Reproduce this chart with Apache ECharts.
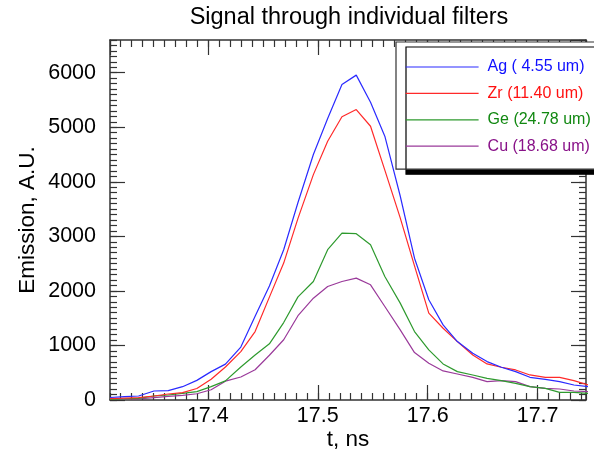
<!DOCTYPE html>
<html>
<head>
<meta charset="utf-8">
<script src="https://cdn.jsdelivr.net/npm/echarts@6/dist/echarts.min.js"></script>
<style>
html,body{margin:0;padding:0;background:#fff;}
#chart{width:594px;height:449px;}
</style>
</head>
<body>
<div id="chart"></div>
<script>
// ---- data ----
var times = [17.311, 17.324, 17.337, 17.351, 17.364, 17.377, 17.390, 17.403, 17.416, 17.430,
             17.443, 17.456, 17.469, 17.482, 17.496, 17.509, 17.522, 17.535, 17.548, 17.561,
             17.575, 17.588, 17.601, 17.614, 17.627, 17.641, 17.654, 17.667, 17.680, 17.693,
             17.707, 17.720, 17.733, 17.746];
var agValues = [46, 61, 73, 165, 171, 244, 360, 520, 658, 970,
                1535, 2090, 2755, 3620, 4500, 5160, 5785, 5956, 5460, 4836,
                3740, 2600, 1837, 1377, 1071, 857, 704, 600, 520, 416,
                379, 337, 275, 245];
var zrValues = [24, 35, 43, 73, 110, 135, 210, 380, 605, 888,
                1255, 1886, 2510, 3330, 4132, 4744, 5192, 5325, 5019, 4215,
                3340, 2460, 1592, 1316, 1071, 826, 661, 600, 551, 459,
                416, 416, 355, 275];
var geValues = [13, 20, 31, 73, 92, 122, 153, 245, 350, 606,
                826, 1030, 1420, 1890, 2172, 2755, 3061, 3049, 2847, 2264,
                1776, 1255, 918, 661, 520, 459, 398, 355, 306, 245,
                214, 141, 141, 122];
var cuValues = [10, 12, 18, 45, 65, 85, 115, 188, 345, 422,
                555, 820, 1105, 1545, 1867, 2081, 2172, 2235, 2112, 1714,
                1286, 869, 674, 533, 477, 416, 337, 355, 337, 245,
                214, 202, 165, 153];
var seriesNames = ['Ag ( 4.55 um)', 'Zr (11.40 um)', 'Ge (24.78 um)', 'Cu (18.68 um)'];
var lineColors = ['#2a2aff', '#ff2a2a', '#2e9a2e', '#9a3a9a'];
var textColors = ['#1010ff', '#ff1010', '#118811', '#881188'];
var allValues = [agValues, zrValues, geValues, cuValues];

var xMin = 17.311, xMax = 17.744, yMin = 0, yMax = 6600;

function pairs(vals){
  var out = [];
  for (var i = 0; i < times.length; i++) out.push([times[i], vals[i]]);
  return out;
}

var axisCol = '#333';
var fontFam = '"Liberation Sans", Arial, Helvetica, sans-serif';

function xAx(pos, major, labels){
  return {
    type: 'value', position: pos, min: xMin, max: xMax,
    splitNumber: major ? 5 : 43,
    axisLine: {show: major, onZero: false, lineStyle: {color: axisCol, width: 1.5}},
    axisTick: {show: true, inside: true, length: major ? 15 : 7, lineStyle: {color: axisCol, width: 1.2}},
    axisLabel: {show: labels, showMinLabel: false, showMaxLabel: false, margin: 5,
      color: '#000', fontSize: 21.5, fontFamily: fontFam,
      formatter: function(v){ return v.toFixed(1); }},
    splitLine: {show: false},
    name: labels ? 't, ns' : '', nameLocation: 'middle', nameGap: 28, nameMoveOverlap: false,
    nameTextStyle: {color: '#000', fontSize: 22.5, fontFamily: fontFam}
  };
}
function yAx(pos, major, labels){
  return {
    type: 'value', position: pos, min: yMin, max: yMax,
    interval: major ? 1000 : 100,
    axisLine: {show: major, onZero: false, lineStyle: {color: axisCol, width: 1.5}},
    axisTick: {show: true, inside: true, length: major ? 15 : 7, lineStyle: {color: axisCol, width: 1.2}},
    axisLabel: {show: labels, showMaxLabel: false, margin: 14,
      color: '#000', fontSize: 21.5, fontFamily: fontFam,
      formatter: function(v){ return String(v); }},
    splitLine: {show: false},
    name: labels ? 'Emission, A.U.' : '', nameLocation: 'middle', nameGap: 71, nameMoveOverlap: false,
    nameTextStyle: {color: '#000', fontSize: 22.5, fontFamily: fontFam}
  };
}

var series = [];
for (var s = 0; s < 4; s++) {
  series.push({
    name: seriesNames[s], type: 'line', xAxisIndex: 0, yAxisIndex: 0,
    data: pairs(allValues[s]), symbol: 'none', showSymbol: false,
    lineStyle: {color: lineColors[s], width: 1.2}, itemStyle: {color: lineColors[s]},
    z: 10 - s, animation: false, clip: true
  });
}

var chart = echarts.init(document.getElementById('chart'), null, {renderer: 'canvas'});
chart.setOption({
  backgroundColor: '#fff',
  animation: false,
  title: {
    text: 'Signal through individual filters', left: 344, top: 1, textAlign: 'center',
    textStyle: {color: '#000', fontSize: 23.5, fontWeight: 'normal', fontFamily: fontFam}
  },
  grid: {left: 110, right: 8, top: 40, bottom: 49, containLabel: false, outerBoundsMode: 'none'},
  xAxis: [xAx('bottom', true, true), xAx('bottom', false, false), xAx('top', true, false), xAx('top', false, false)],
  yAxis: [yAx('left', true, true), yAx('left', false, false), yAx('right', true, false), yAx('right', false, false)],
  legend: {
    orient: 'vertical', left: 396, top: 42,
    padding: [17, 8, 15, 9],
    itemWidth: 73, itemHeight: 16, itemGap: 10.4,
    backgroundColor: '#fff', borderColor: '#333', borderWidth: 1.2,
    shadowColor: '#000', shadowBlur: 0, shadowOffsetX: 10, shadowOffsetY: 5,
    itemStyle: {opacity: 0},
    lineStyle: {width: 1.2},
    textStyle: {fontSize: 16, fontFamily: fontFam, padding: [0, 0, 0, 4]},
    data: seriesNames.map(function(n, i){ return {name: n, textStyle: {color: textColors[i]}}; })
  },
  series: series
});
</script>
</body>
</html>
